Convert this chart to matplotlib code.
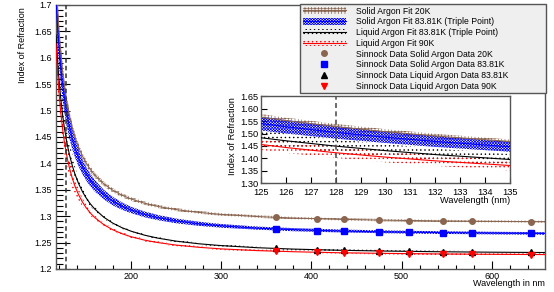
import numpy as np
import matplotlib.pyplot as plt
from matplotlib.patches import Patch
from matplotlib.lines import Line2D
from matplotlib.ticker import MultipleLocator, FuncFormatter

plt.rcParams["font.family"] = ["Liberation Sans", "DejaVu Sans"]
plt.rcParams["hatch.linewidth"] = 0.5

# fit curves
wavelength = [117, 118, 119, 120, 122, 124, 125, 126, 128, 130, 132, 135, 138, 142, 146, 150,
              155, 160, 170, 180, 190, 200, 215, 230, 250, 275, 300, 340, 380, 430, 480, 540, 600, 659]

solid_20k = [1.7489, 1.7146, 1.6848, 1.6587, 1.6150, 1.5800, 1.5650, 1.5514, 1.5275, 1.5072, 1.4899,
             1.4680, 1.4501, 1.4306, 1.4148, 1.4019, 1.3886, 1.3778, 1.3611, 1.3490, 1.3399, 1.3327,
             1.3246, 1.3185, 1.3125, 1.3072, 1.3034, 1.2993, 1.2965, 1.2941, 1.2925, 1.2911, 1.2902, 1.2895]
solid_20k_err = [0.022, 0.020, 0.019, 0.017, 0.015, 0.014, 0.013, 0.012, 0.011, 0.010, 0.009, 0.008,
                 0.0075, 0.007, 0.0065, 0.006, 0.0055, 0.005, 0.0045, 0.004, 0.0038, 0.0035, 0.0032,
                 0.003, 0.0028, 0.0026, 0.0025, 0.0024, 0.0023, 0.0022, 0.0022, 0.0021, 0.0021, 0.002]

solid_tp = [1.7079, 1.6774, 1.6506, 1.6268, 1.5867, 1.5541, 1.5400, 1.5271, 1.5043, 1.4850, 1.4682,
            1.4470, 1.4295, 1.4103, 1.3947, 1.3818, 1.3685, 1.3576, 1.3408, 1.3285, 1.3192, 1.3119,
            1.3035, 1.2973, 1.2911, 1.2857, 1.2817, 1.2774, 1.2745, 1.2721, 1.2704, 1.2690, 1.2680, 1.2673]
solid_tp_err = [0.040, 0.037, 0.035, 0.033, 0.030, 0.029, 0.028, 0.027, 0.025, 0.023, 0.022, 0.020,
                0.018, 0.016, 0.014, 0.013, 0.012, 0.011, 0.009, 0.008, 0.007, 0.006, 0.0055, 0.005,
                0.0045, 0.004, 0.0035, 0.003, 0.003, 0.0028, 0.0027, 0.0026, 0.0025, 0.0025]

liquid_tp = [1.6432, 1.6138, 1.5880, 1.5653, 1.5272, 1.4963, 1.4830, 1.4709, 1.4495, 1.4314, 1.4157,
             1.3960, 1.3797, 1.3619, 1.3475, 1.3357, 1.3234, 1.3134, 1.2980, 1.2868, 1.2783, 1.2717,
             1.2641, 1.2584, 1.2528, 1.2478, 1.2443, 1.2403, 1.2377, 1.2355, 1.2340, 1.2327, 1.2318, 1.2312]
liquid_tp_err = [0.040, 0.038, 0.036, 0.035, 0.032, 0.031, 0.030, 0.029, 0.027, 0.026, 0.024, 0.022,
                 0.015, 0.011, 0.008, 0.006, 0.005, 0.004, 0.003, 0.0025, 0.0022, 0.002, 0.002, 0.002,
                 0.002, 0.002, 0.002, 0.002, 0.002, 0.002, 0.002, 0.002, 0.002, 0.002]

liquid_90k = [1.6268, 1.5937, 1.5655, 1.5410, 1.5009, 1.4694, 1.4560, 1.4440, 1.4230, 1.4055, 1.3906,
              1.3720, 1.3569, 1.3407, 1.3276, 1.3170, 1.3061, 1.2973, 1.2839, 1.2742, 1.2669, 1.2612,
              1.2547, 1.2500, 1.2453, 1.2411, 1.2381, 1.2348, 1.2327, 1.2308, 1.2296, 1.2285, 1.2278, 1.2273]
liquid_90k_err = [0.030, 0.028, 0.027, 0.026, 0.024, 0.023, 0.022, 0.022, 0.021, 0.021, 0.020, 0.020,
                  0.015, 0.011, 0.008, 0.006, 0.005, 0.004, 0.0035, 0.003, 0.0028, 0.0026, 0.0025,
                  0.0024, 0.0023, 0.0022, 0.0022, 0.0021, 0.0021, 0.002, 0.002, 0.002, 0.002, 0.002]

# Sinnock data points
sinnock_wl = [361.2, 406.0, 435.8, 475.0, 508.6, 546.1, 578.0, 643.8]
sinnock_solid_20k = [1.2980, 1.2955, 1.2942, 1.2927, 1.2917, 1.2910, 1.2904, 1.2895]
sinnock_solid_tp = [1.2752, 1.2727, 1.2717, 1.2704, 1.2694, 1.2687, 1.2682, 1.2674]
sinnock_liquid_tp = [1.2392, 1.2368, 1.2356, 1.2344, 1.2336, 1.2329, 1.2324, 1.2316]
sinnock_liquid_90k = [1.2340, 1.2320, 1.2308, 1.2299, 1.2291, 1.2286, 1.2280, 1.2272]
sinnock_err = 0.002

BROWN = "#8a6650"
FRAME = "#555555"

fits = [
    (solid_20k, solid_20k_err, BROWN, "+++++"),
    (solid_tp, solid_tp_err, "#0000ff", "xxxxxxxxxxxx"),
    (liquid_tp, liquid_tp_err, "black", "...."),
    (liquid_90k, liquid_90k_err, "#ff0000", "...."),
]
points = [
    (sinnock_solid_20k, BROWN, "o"),
    (sinnock_solid_tp, "#0000ff", "s"),
    (sinnock_liquid_tp, "black", "^"),
    (sinnock_liquid_90k, "#ff0000", "v"),
]


def draw_fits(ax):
    wl = np.array(wavelength)
    for n, err, color, hatch in fits:
        n = np.array(n)
        err = np.array(err)
        ax.fill_between(wl, n - err, n + err, facecolor="none", edgecolor=color,
                        hatch=hatch, linewidth=0, zorder=2)
        ax.plot(wl, n, color=color, lw=0.8, zorder=3)


def style_frame(ax):
    for sp in ax.spines.values():
        sp.set_color(FRAME)
        sp.set_linewidth(1.0)


fig = plt.figure(figsize=(5.54, 2.92), dpi=100)

# main plot
ax = fig.add_axes([0.1011, 0.0788, 0.8827, 0.9041])
draw_fits(ax)
for vals, color, marker in points:
    ax.errorbar(sinnock_wl, vals, yerr=sinnock_err, fmt=marker, color=color, ms=4,
                elinewidth=0.8, capsize=0, zorder=4)
ax.axvline(128, color="#333333", ls=(0, (3, 2)), lw=1.1, zorder=5)
ax.set_xlim(117, 659)
ax.set_ylim(1.2, 1.7)
ax.xaxis.set_major_locator(MultipleLocator(100))
ax.xaxis.set_minor_locator(MultipleLocator(20))
ax.yaxis.set_major_locator(MultipleLocator(0.05))
ax.yaxis.set_minor_locator(MultipleLocator(0.01))
ax.yaxis.set_major_formatter(FuncFormatter(lambda v, p: f"{v:.2f}".rstrip("0").rstrip(".")))
ax.tick_params(which="both", direction="in", colors="black", labelsize=6.5, width=0.8)
ax.tick_params(axis="x", which="major", length=6, pad=2)
ax.tick_params(axis="x", which="minor", length=3)
ax.tick_params(axis="y", which="major", length=10, pad=3)
ax.tick_params(axis="y", which="minor", length=5)
style_frame(ax)
fig.text(0.9838, 0.028, "Wavelength in nm", ha="right", va="center", fontsize=6.5)
fig.text(0.041, 0.975, "Index of Refraction", ha="center", va="top", rotation=90, fontsize=6.5)

# inset zoom around 128 nm
ins = fig.add_axes([0.4711, 0.3716, 0.4495, 0.2996])
draw_fits(ins)
ins.axvline(128, color="#555555", ls=(0, (3, 2)), lw=1.2, zorder=5)
ins.set_xlim(125, 135)
ins.set_ylim(1.30, 1.65)
ins.xaxis.set_major_locator(MultipleLocator(1))
ins.yaxis.set_major_locator(MultipleLocator(0.05))
ins.yaxis.set_major_formatter(FuncFormatter(lambda v, p: f"{v:.2f}"))
ins.tick_params(which="both", direction="in", labelsize=6.7, width=0.8, length=4)
ins.tick_params(axis="x", pad=3)
ins.tick_params(axis="y", pad=2)
style_frame(ins)
fig.text(0.9206, 0.313, "Wavelength (nm)", ha="right", va="center", fontsize=6.7)
fig.text(0.419, 0.668, "Index of Refraction", ha="center", va="top", rotation=90, fontsize=6.7)

# legend
handles = []
for n, err, color, hatch in fits:
    handles.append((Patch(facecolor="none", edgecolor=color, hatch=hatch, linewidth=0),
                    Line2D([], [], color=color, lw=0.8)))
for vals, color, marker in points:
    handles.append(Line2D([], [], ls="none", marker=marker, color=color, ms=4))
labels = [
    "Solid Argon Fit 20K",
    "Solid Argon Fit 83.81K (Triple Point)",
    "Liquid Argon Fit 83.81K (Triple Point)",
    "Liquid Argon Fit 90K",
    "Sinnock Data Solid Argon Data 20K",
    "Sinnock Data Solid Argon Data 83.81K",
    "Sinnock Data Liquid Argon Data 83.81K",
    "Sinnock Data Liquid Argon Data 90K",
]
leg = fig.legend(handles, labels, loc="upper left", mode="expand",
                 bbox_to_anchor=(0.5415, 0.6986, 0.4441, 0.2877),
                 fontsize=6.25, handlelength=5.0, handleheight=0.8, handletextpad=1.1,
                 labelspacing=0.2, borderpad=0.3, borderaxespad=0, fancybox=False,
                 framealpha=1)
leg.get_frame().set_facecolor("#efefef")
leg.get_frame().set_edgecolor(FRAME)
leg.get_frame().set_linewidth(1.0)

fig.savefig("out.png", dpi=100)
